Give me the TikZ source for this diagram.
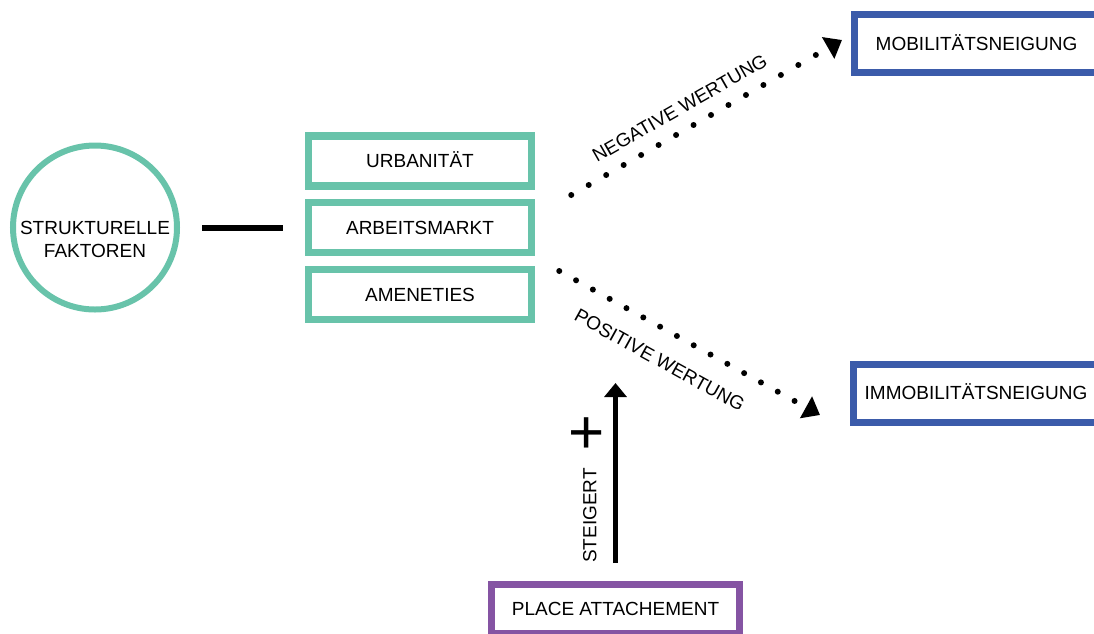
\documentclass[tikz,border=0pt]{standalone}
\usepackage{fontspec}
\setmainfont{Liberation Sans}
\usetikzlibrary{arrows.meta,calc}

\definecolor{factorteal}{RGB}{104,195,170}
\definecolor{outcomeblue}{RGB}{59,91,170}
\definecolor{attachpurple}{RGB}{133,84,163}

\begin{document}
\begin{tikzpicture}[x=1pt,y=-1pt,
  lbl/.style={font=\fontsize{19}{23}\selectfont, inner sep=0pt},
  caps/.style={lbl, text height=13.6pt, text depth=0pt},
  factor/.style={caps, draw=factorteal, line width=7.5pt,
    minimum width=223pt, minimum height=50pt},
  outcome/.style={caps, draw=outcomeblue, line width=7pt,
    minimum width=245pt, minimum height=58pt},
  attach/.style={caps, draw=attachpurple, line width=7pt,
    minimum width=248pt, minimum height=49pt},
  ring/.style={circle, draw=factorteal, line width=6pt,
    minimum size=164pt, inner sep=0pt},
  link/.style={line width=6pt, shorten <=22pt, shorten >=22pt},
  rise/.style={line width=5pt, shorten <=18pt,
    -{Triangle[length=14pt,width=22pt]}},
  dotarrow/.style={line width=6pt, line cap=round,
    dash pattern=on 0pt off #1, -{Triangle[length=16pt,width=24pt]}},
]
\useasboundingbox (0,0) rectangle (1094,633);
\clip (0,0) rectangle (1094,633);

% structural factors
\node[ring] (sf) at (95,227.5) {};
\node[lbl, align=center] (sftext) at (95,239) {STRUKTURELLE\\FAKTOREN};

% individual factors
\node[factor] (urb) at (420,161) {URBANITÄT};
\node[factor] (arb) at (420,227.5) {ARBEITSMARKT};
\node[factor] (ame) at (420,294.5) {AMENETIES};

% outcomes
\node[outcome] (mob) at (976.5,43.5) {MOBILITÄTSNEIGUNG};
\node[outcome] (imm) at (976,393) {IMMOBILITÄTSNEIGUNG};

% place attachment
\node[attach] (pa) at (615.5,609) {PLACE ATTACHEMENT};

% connectors
\draw[link] (sf) -- (arb);

\draw[dotarrow=20.13pt] ($(urb.east)+(36,34)$) -- ($(mob.west)+(-8.5,-3.5)$)
  node[pos=0.44, sloped, above=12pt, caps] (neg) {NEGATIVE WERTUNG};

\draw[dotarrow=19.2pt] ($(ame.east)+(24,-23.5)$) -- ($(imm.west)+(-30,22)$)
  node[pos=0.44, sloped, below=19.5pt, caps] (pos) {POSITIVE WERTUNG};

\coordinate (lift) at (615.5,383);
\draw[rise] (pa) -- (lift);
\node[caps, rotate=90] (steig) at (589.5,515.5) {STEIGERT};
\node[font=\fontsize{62}{62}\selectfont, inner sep=0pt, anchor=base] (plus) at (587,453.8) {+};
\end{tikzpicture}
\end{document}
